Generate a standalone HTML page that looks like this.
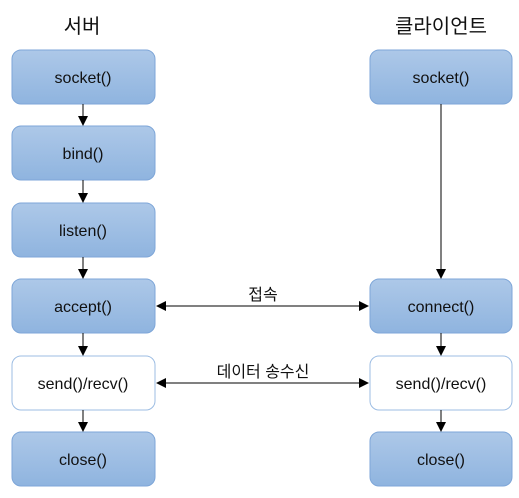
<!DOCTYPE html>
<html><head><meta charset="utf-8"><style>
body{margin:0;background:#fff;width:519px;height:493px;overflow:hidden}
</style></head><body>
<svg width="519" height="493" xmlns="http://www.w3.org/2000/svg" font-family="'Liberation Sans','Noto Sans CJK KR',sans-serif">
<defs>
<linearGradient id="g" x1="0" y1="0" x2="0" y2="1"><stop offset="0" stop-color="#adc8e8"/><stop offset="1" stop-color="#8fb4df"/></linearGradient>
<marker id="a" markerWidth="10" markerHeight="10" refX="9" refY="5" orient="auto" markerUnits="userSpaceOnUse"><path d="M0,0 L10,5 L0,10 z" fill="#000"/></marker>
<marker id="s" markerWidth="10" markerHeight="10" refX="1" refY="5" orient="auto" markerUnits="userSpaceOnUse"><path d="M10,0 L0,5 L10,10 z" fill="#000"/></marker>
</defs>
<g font-size="20" text-anchor="middle" fill="#111">
<text x="82" y="33">서버</text>
<text x="441" y="33">클라이언트</text>
</g>
<g stroke="#7ea6d8" stroke-width="1">
<rect x="12" y="50" width="143" height="54" rx="9" fill="url(#g)"/>
<rect x="12" y="126" width="143" height="54" rx="9" fill="url(#g)"/>
<rect x="12" y="203" width="143" height="54" rx="9" fill="url(#g)"/>
<rect x="12" y="279" width="143" height="54" rx="9" fill="url(#g)"/>
<rect x="12" y="356" width="143" height="54" rx="9" fill="#fff" stroke="#9dbde3"/>
<rect x="12" y="432" width="143" height="54" rx="9" fill="url(#g)"/>
<rect x="370" y="50" width="142" height="54" rx="9" fill="url(#g)"/>
<rect x="370" y="279" width="142" height="54" rx="9" fill="url(#g)"/>
<rect x="370" y="356" width="142" height="54" rx="9" fill="#fff" stroke="#9dbde3"/>
<rect x="370" y="432" width="142" height="54" rx="9" fill="url(#g)"/>
</g>
<g font-size="16" text-anchor="middle" fill="#111">
<text x="83" y="83">socket()</text>
<text x="83" y="159">bind()</text>
<text x="83" y="236">listen()</text>
<text x="83" y="312">accept()</text>
<text x="83" y="389">send()/recv()</text>
<text x="83" y="465">close()</text>
<text x="441" y="83">socket()</text>
<text x="441" y="312">connect()</text>
<text x="441" y="389">send()/recv()</text>
<text x="441" y="465">close()</text>
</g>
<g stroke="#000" stroke-width="1" fill="none">
<line x1="83" y1="104" x2="83" y2="125" marker-end="url(#a)"/>
<line x1="83" y1="180" x2="83" y2="202" marker-end="url(#a)"/>
<line x1="83" y1="257" x2="83" y2="278" marker-end="url(#a)"/>
<line x1="83" y1="333" x2="83" y2="355" marker-end="url(#a)"/>
<line x1="83" y1="410" x2="83" y2="431" marker-end="url(#a)"/>
<line x1="441" y1="104" x2="441" y2="278" marker-end="url(#a)"/>
<line x1="441" y1="333" x2="441" y2="355" marker-end="url(#a)"/>
<line x1="441" y1="410" x2="441" y2="431" marker-end="url(#a)"/>
<line x1="157" y1="306" x2="368" y2="306" marker-start="url(#s)" marker-end="url(#a)"/>
<line x1="157" y1="383" x2="368" y2="383" marker-start="url(#s)" marker-end="url(#a)"/>
</g>
<g font-size="16" text-anchor="middle" fill="#111">
<text x="263" y="300">접속</text>
<text x="263" y="377">데이터 송수신</text>
</g>
</svg>
</body></html>
